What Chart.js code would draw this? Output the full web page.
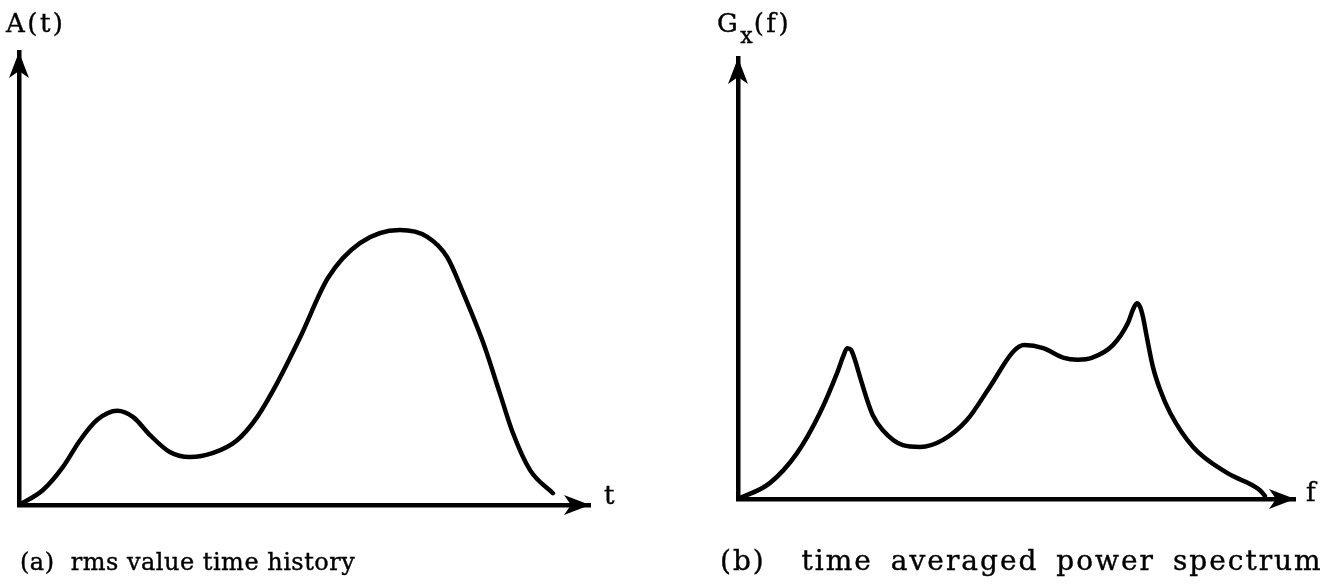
<!DOCTYPE html>
<html>
<head>
<meta charset="utf-8">
<script src="https://cdn.jsdelivr.net/npm/chart.js@4"></script>
<style>
  html, body { margin: 0; padding: 0; background: #fff; }
  body { width: 1330px; height: 584px; position: relative; overflow: hidden; font-family: "DejaVu Serif", serif; color: #000; }
  .cv { position: absolute; top: 0; width: 665px; height: 584px; }
  .lbl { position: absolute; white-space: nowrap; line-height: 1; -webkit-text-stroke: 0.4px #000; }
  .ax { font-size: 26px; letter-spacing: 2.5px; }
  .capa { font-size: 24px; letter-spacing: 0.5px; }
  .capb { font-size: 28px; letter-spacing: 2px; word-spacing: 7px; }
  .sub { font-size: 22px; position: relative; top: 11px; letter-spacing: 1px; }
</style>
</head>
<body>
<div class="cv" style="left:0"><canvas id="c1" width="665" height="584"></canvas></div>
<div class="cv" style="left:665px"><canvas id="c2" width="665" height="584"></canvas></div>

<div class="lbl ax" style="left:6px; top:10px;">A(t)</div>
<div class="lbl ax" style="left:604px; top:482px;">t</div>
<div class="lbl ax" style="left:717px; top:10px;">G<span class="sub">x</span>(f)</div>
<div class="lbl ax" style="left:1306px; top:479px;">f</div>

<div class="lbl capa" style="left:20px; top:550px;">(a)&nbsp; rms value time history</div>
<div class="lbl capb" style="left:720px; top:547px;">(b)&nbsp; time averaged power spectrum</div>

<script>
// (a) rms value time history
const rmsTime  = [0, 4.2, 7.7, 10.7, 13.7, 17.2, 20.0, 22.9, 26.4, 29.9, 34.0, 38.2, 41.7, 45.2, 49.2, 54.1, 59.7, 66.7, 71.5, 75.0, 77.8, 81.3, 84.2, 86.5, 89.5, 93.5];
const rmsValue = [0, 3.3, 8.4, 14.3, 18.8, 20.8, 19.4, 15.5, 11.7, 10.6, 11.5, 14.3, 19.4, 26.9, 36.9, 50.1, 57.8, 60.7, 59.2, 54.7, 46.8, 35.8, 24.7, 15.9, 7.7, 2.6];

// (b) time averaged power spectrum
const freq     = [0, 5.7, 10.6, 14.7, 17.8, 18.9, 19.6, 20.3, 21.0, 21.9, 23.2, 24.2, 26.0, 29.6, 32.7, 36.8, 41.1, 45.2, 49.4, 51.4, 54.8, 58.5, 61.0, 63.5, 67.3, 70.0, 70.9, 71.6, 72.2, 72.7, 73.4, 74.5, 75.8, 77.6, 81.7, 87.8, 93.7, 94.6];
const psdValue = [0, 3.6, 10.4, 19.5, 28.6, 32.4, 34.2, 33.8, 31.5, 27.7, 22.4, 19.0, 15.6, 12.2, 11.8, 13.4, 17.9, 25.4, 33.4, 34.9, 34.2, 32.0, 31.6, 32.0, 34.9, 39.9, 42.9, 44.4, 43.5, 41.3, 36.7, 29.9, 24.7, 19.5, 11.8, 5.9, 2.0, 0.7];

const axisMin = 0, axisMax = 100;

function toPoints(xs, ys) { return xs.map((x, i) => ({ x: x, y: ys[i] })); }

const arrowPlugin = {
  id: 'arrows',
  afterDraw(chart) {
    const ctx = chart.ctx, a = chart.chartArea;
    const L = 26, W = 10, N = 19;
    ctx.save();
    ctx.fillStyle = '#000';
    ctx.beginPath();
    ctx.moveTo(a.left, a.top);
    ctx.lineTo(a.left + W, a.top + L);
    ctx.lineTo(a.left, a.top + N);
    ctx.lineTo(a.left - W, a.top + L);
    ctx.closePath();
    ctx.fill();
    ctx.beginPath();
    ctx.moveTo(a.right, a.bottom);
    ctx.lineTo(a.right - L, a.bottom - W);
    ctx.lineTo(a.right - N, a.bottom);
    ctx.lineTo(a.right - L, a.bottom + W);
    ctx.closePath();
    ctx.fill();
    ctx.restore();
  }
};

function makeChart(id, xs, ys, pad) {
  return new Chart(document.getElementById(id), {
    type: 'line',
    data: {
      datasets: [{
        data: toPoints(xs, ys),
        borderColor: '#000',
        borderWidth: 4.5,
        pointRadius: 0,
        cubicInterpolationMode: 'monotone',
        fill: false,
        borderCapStyle: 'round',
        borderJoinStyle: 'round'
      }]
    },
    options: {
      responsive: false,
      animation: false,
      events: [],
      layout: { padding: pad },
      plugins: { legend: { display: false }, tooltip: { enabled: false }, title: { display: false } },
      scales: {
        x: {
          type: 'linear', min: axisMin, max: axisMax,
          grid: { display: false, drawTicks: false },
          ticks: { display: false },
          border: { display: true, color: '#000', width: 4.5 },
          afterFit(s) { s.height = 0; }
        },
        y: {
          type: 'linear', min: axisMin, max: axisMax,
          grid: { display: false, drawTicks: false },
          ticks: { display: false },
          border: { display: true, color: '#000', width: 4.5 },
          afterFit(s) { s.width = 0; }
        }
      }
    },
    plugins: [arrowPlugin]
  });
}

makeChart('c1', rmsTime, rmsValue, { left: 19, right: 75, top: 52, bottom: 79 });
makeChart('c2', freq, psdValue, { left: 73, right: 35, top: 58, bottom: 85 });
</script>
</body>
</html>
